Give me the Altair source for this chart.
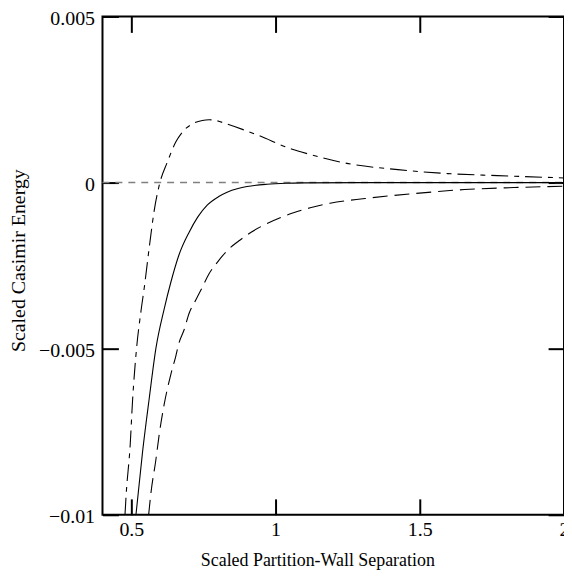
import altair as alt
import pandas as pd

# ---- data ----
solid_x = [0.516, 0.539, 0.562, 0.585, 0.614, 0.637, 0.665, 0.700, 0.730, 0.763, 0.803,
           0.832, 0.870, 0.901, 0.970, 1.038, 1.100, 1.300, 2.000]
solid_y = [-0.0100, -0.0081, -0.0065, -0.0050, -0.0038, -0.0030, -0.00218, -0.00150,
           -0.00104, -0.00068, -0.00042, -0.00029, -0.00018, -0.00012, -0.00005,
           -0.00002, -0.00001, 0.0, 0.0]

dashdot_x = [0.478, 0.482, 0.496, 0.504, 0.518, 0.533, 0.545, 0.562, 0.579, 0.597, 0.625,
             0.654, 0.677, 0.717, 0.746, 0.770, 0.792, 0.832, 0.895, 0.941, 1.055, 1.090,
             1.252, 1.424, 1.597, 1.769, 2.000]
dashdot_y = [-0.0100, -0.0094, -0.0079, -0.0066, -0.0050, -0.0039, -0.00315, -0.00196,
             -0.00086, -0.00007, 0.00062, 0.00122, 0.00152, 0.00179, 0.00187, 0.00189,
             0.00187, 0.00176, 0.00157, 0.00142, 0.00101, 0.00092, 0.00057, 0.00039,
             0.00027, 0.00021, 0.00014]

dashed_x = [0.560, 0.568, 0.585, 0.597, 0.614, 0.637, 0.654, 0.665, 0.683, 0.700, 0.723,
            0.746, 0.769, 0.798, 0.832, 0.872, 0.918, 0.964, 1.016, 1.062, 1.120, 1.189,
            1.310, 1.483, 1.655, 1.827, 2.000]
dashed_y = [-0.0100, -0.00934, -0.00835, -0.00756, -0.00667, -0.00577, -0.00523, -0.00483,
            -0.00443, -0.00394, -0.00354, -0.00315, -0.00275, -0.0024, -0.00205, -0.00176,
            -0.00148, -0.00126, -0.00106, -0.00091, -0.00076, -0.00062, -0.00048, -0.00033,
            -0.00021, -0.00015, -0.00011]

zero_x = [0.4, 2.0]
zero_y = [0.0, 0.0]

x_ticks = [0.5, 1, 1.5, 2]
y_ticks = [-0.01, -0.005, 0, 0.005]

x_title = "Scaled Partition-Wall Separation"
y_title = "Scaled Casimir Energy"

# ---- layout ----
W, H = 464, 501
FONT = "Liberation Serif"

df_solid = pd.DataFrame({"x": solid_x, "y": solid_y})
df_dashdot = pd.DataFrame({"x": dashdot_x, "y": dashdot_y})
df_dashed = pd.DataFrame({"x": dashed_x, "y": dashed_y})
df_zero = pd.DataFrame({"x": zero_x, "y": zero_y})

xscale = alt.Scale(domain=[0.4, 2.0], nice=False, zero=False)
yscale = alt.Scale(domain=[-0.01, 0.005], nice=False, zero=False)

tick_only = dict(labels=False, domain=False, grid=False, ticks=True, tickSize=16,
                 tickWidth=2, tickColor="black", title=None)

# main axes: labels + titles, no ticks
main_x = alt.Axis(orient="bottom", values=x_ticks, format="~g", labelFlush=False,
                  labelFont=FONT, labelFontSize=20, labelColor="black", labelPadding=5,
                  ticks=False, domain=False, grid=False, title=x_title,
                  titleFont=FONT, titleFontSize=18, titleFontWeight="normal",
                  titleColor="black", titleX=216, titleY=51, titleAlign="center",
                  titleBaseline="alphabetic")
main_y = alt.Axis(orient="left", values=y_ticks, format="~g", labelFont=FONT,
                  labelFontSize=20, labelColor="black", labelPadding=8, labelOffset=2,
                  ticks=False, domain=False, grid=False, title=y_title, titleFont=FONT,
                  titleFontSize=20, titleFontWeight="normal", titleColor="black",
                  titleAngle=270, titleX=-78, titleY=245, titleAlign="center",
                  titleBaseline="alphabetic")

# inward ticks: axes shifted across the plot by negative offsets
x_ticks_bottom = alt.Axis(orient="top", offset=-H, values=x_ticks, **tick_only)
x_ticks_top = alt.Axis(orient="bottom", offset=-H, values=x_ticks, **tick_only)
y_ticks_left = alt.Axis(orient="right", offset=-W, values=y_ticks, **tick_only)
y_ticks_right = alt.Axis(orient="left", offset=-W, values=y_ticks, **tick_only)

zero_line = alt.Chart(df_zero).mark_line(
    color="#808080", strokeWidth=1.5, strokeDash=[7, 6]
).encode(
    x=alt.X("x:Q", scale=xscale, axis=x_ticks_bottom),
    y=alt.Y("y:Q", scale=yscale, axis=y_ticks_left),
)

solid = alt.Chart(df_solid).mark_line(
    color="black", strokeWidth=1.1, interpolate="monotone", clip=True
).encode(
    x=alt.X("x:Q", scale=xscale, axis=x_ticks_top),
    y=alt.Y("y:Q", scale=yscale, axis=y_ticks_right),
)

dashed = alt.Chart(df_dashed).mark_line(
    color="black", strokeWidth=1.1, strokeDash=[15, 7], interpolate="monotone", clip=True
).encode(
    x=alt.X("x:Q", scale=xscale, axis=main_x),
    y=alt.Y("y:Q", scale=yscale, axis=main_y),
)

dashdot = alt.Chart(df_dashdot).mark_line(
    color="black", strokeWidth=1.1, strokeDash=[17, 6, 5, 6], interpolate="monotone",
    clip=True
).encode(
    x=alt.X("x:Q", scale=xscale, axis=None),
    y=alt.Y("y:Q", scale=yscale, axis=None),
)

chart = alt.layer(zero_line, solid, dashed, dashdot).resolve_axis(
    x="independent", y="independent"
).properties(
    width=W, height=H,
    padding={"left": 95, "top": 7, "right": 0, "bottom": 56},
    autosize=alt.AutoSizeParams(type="none"),
    background="white",
).configure_view(stroke="black", strokeWidth=2)

chart.save("out.html", embed_options={"renderer": "svg", "actions": False})
